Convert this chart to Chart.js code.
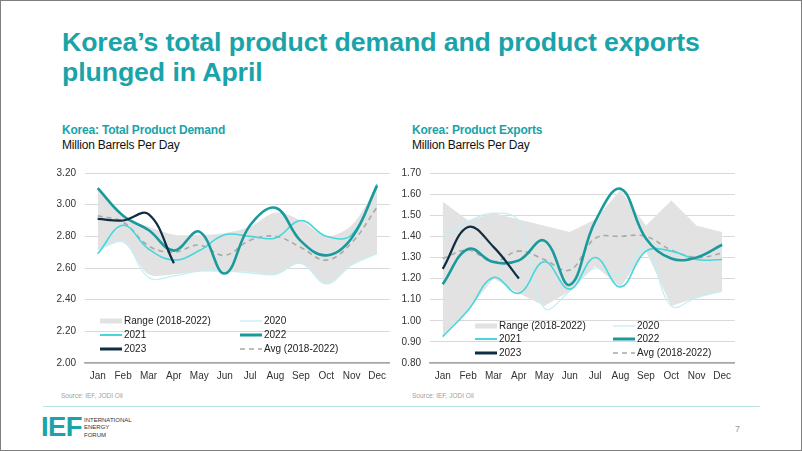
<!DOCTYPE html>
<html>
<head>
<meta charset="utf-8">
<script src="https://cdn.jsdelivr.net/npm/chart.js@4.4.0/dist/chart.umd.min.js"></script>
<style>
  html, body { margin:0; padding:0; background:#fff; }
  body { width:802px; height:451px; position:relative; overflow:hidden; font-family:"Liberation Sans", Arial, sans-serif; }
  #frame { position:absolute; left:0; top:0; width:802px; height:451px; box-sizing:border-box; border:1px solid #7f7f7f; pointer-events:none; }
  .title { position:absolute; left:62px; top:28px; font-size:26.7px; line-height:29.5px; font-weight:bold; color:#1aa3a9; letter-spacing:-0.1px; }
  .sub { position:absolute; font-size:12px; line-height:15px; }
  .sub b { color:#1aa3a9; display:block; letter-spacing:-0.2px; }
  .sub span { color:#111; display:block; letter-spacing:-0.2px; }
  .cv { position:absolute; }
  .legend { position:absolute; font-size:10px; color:#222; }
  .li { position:absolute; height:14px; white-space:nowrap; }
  .li svg { position:absolute; left:0; top:0; }
  .li span { position:absolute; left:24px; top:0; line-height:14px; }
  .src { position:absolute; top:392px; font-size:6.5px; color:#a0a0a0; }
  .sep { position:absolute; left:43px; top:406px; width:717px; height:1px; background:#b9e2e5; }
  .logo { position:absolute; left:41px; top:412px; font-size:27.5px; font-weight:bold; color:#1aa3a9; letter-spacing:-0.6px; line-height:30px; }
  .logotxt { position:absolute; left:84px; top:416.5px; font-size:6px; line-height:7.6px; color:#333; }
  .page { position:absolute; left:735px; top:424px; font-size:9px; color:#999; }
</style>
</head>
<body>
<div class="title">Korea’s total product demand and product exports<br>plunged in April</div>
<div class="sub" style="left:62px; top:123px;"><b>Korea: Total Product Demand</b><span>Million Barrels Per Day</span></div>
<div class="sub" style="left:412px; top:123px;"><b>Korea: Product Exports</b><span>Million Barrels Per Day</span></div>

<canvas id="c1" class="cv" width="343" height="230" style="left:50px; top:158px; width:343px; height:230px;"></canvas>
<canvas id="c2" class="cv" width="343" height="230" style="left:395px; top:158px; width:343px; height:230px;"></canvas>
<div id="lg1" class="legend"></div>
<div id="lg2" class="legend"></div>

<div class="src" style="left:61px;">Source: IEF, JODI Oil</div>
<div class="src" style="left:412px;">Source: IEF, JODI Oil</div>
<div class="sep"></div>
<div class="logo">IEF</div>
<div class="logotxt">INTERNATIONAL<br>ENERGY<br>FORUM</div>
<div class="page">7</div>
<div id="frame"></div>

<script>
// ---------- Data ----------
const months = ['Jan','Feb','Mar','Apr','May','Jun','Jul','Aug','Sep','Oct','Nov','Dec'];
const seriesNames = ['Range (2018-2022)','2020','2021','2022','2023','Avg (2018-2022)'];

// Korea: Total Product Demand (mb/d)
const demandTicks = [2.00, 2.20, 2.40, 2.60, 2.80, 3.00, 3.20];
const demandRangeMax = [3.10, 2.92, 2.86, 2.81, 2.81, 2.82, 2.86, 2.95, 2.90, 2.80, 2.87, 3.12];
const demandRangeMin = [2.71, 2.76, 2.56, 2.56, 2.58, 2.575, 2.575, 2.56, 2.63, 2.50, 2.62, 2.69];
const demand2020 = [2.72, 2.77, 2.54, 2.55, 2.58, 2.58, 2.57, 2.56, 2.63, 2.50, 2.62, 2.69];
const demand2021 = [2.69, 2.87, 2.72, 2.65, 2.71, 2.81, 2.80, 2.79, 2.90, 2.80, 2.81, 3.13];
const demand2022 = [3.105, 2.93, 2.84, 2.71, 2.83, 2.565, 2.87, 2.98, 2.77, 2.68, 2.79, 3.12];
const demand2023 = [2.91, 2.90, 2.94, 2.63];
const demandAvg = [2.93, 2.89, 2.74, 2.70, 2.745, 2.68, 2.775, 2.80, 2.73, 2.65, 2.76, 2.985];

// Korea: Product Exports (mb/d)
const exportTicks = [0.80, 0.90, 1.00, 1.10, 1.20, 1.30, 1.40, 1.50, 1.60, 1.70];
const exportRangeMax = [1.565, 1.475, 1.51, 1.48, 1.45, 1.42, 1.48, 1.62, 1.45, 1.57, 1.45, 1.42];
const exportRangeMin = [0.93, 1.05, 1.20, 1.13, 1.07, 1.14, 1.26, 1.16, 1.33, 1.07, 1.11, 1.14];
const export2020 = [1.40, 1.47, 1.51, 1.47, 1.06, 1.14, 1.25, 1.22, 1.34, 1.07, 1.11, 1.14];
const export2021 = [0.925, 1.05, 1.205, 1.13, 1.28, 1.15, 1.30, 1.16, 1.33, 1.33, 1.29, 1.29];
const export2022 = [1.173, 1.34, 1.278, 1.286, 1.38, 1.17, 1.47, 1.625, 1.39, 1.295, 1.30, 1.36];
const export2023 = [1.246, 1.444, 1.35, 1.20];
const exportAvg = [1.295, 1.335, 1.28, 1.33, 1.29, 1.24, 1.39, 1.40, 1.40, 1.335, 1.30, 1.32];

// ---------- Styles ----------
const C = {
  range: '#e2e2e2', y2020: '#c4eff4', y2021: '#46d6dc', y2022: '#1a9a9d', y2023: '#0f2e44', avg: '#a8a8a8'
};

function buildDatasets(d, bandTension) {
  // first dataset is drawn on top
  return [
    { label: seriesNames[4], data: d.y2023, borderColor: C.y2023, borderWidth: 2.2, tension: 0.4, pointRadius: 0, fill: false },
    { label: seriesNames[3], data: d.y2022, borderColor: C.y2022, borderWidth: 2.6, tension: 0.4, pointRadius: 0, fill: false },
    { label: seriesNames[2], data: d.y2021, borderColor: C.y2021, borderWidth: 1.6, tension: 0.4, pointRadius: 0, fill: false },
    { label: seriesNames[5], data: d.avg, borderColor: C.avg, borderWidth: 1.6, borderDash: [5, 4], tension: 0.4, pointRadius: 0, fill: false },
    { label: seriesNames[1], data: d.y2020, borderColor: C.y2020, borderWidth: 1.3, tension: 0.4, pointRadius: 0, fill: false },
    { label: seriesNames[0], data: d.max, borderWidth: 0, borderColor: 'rgba(0,0,0,0)', backgroundColor: C.range, tension: bandTension, pointRadius: 0, fill: '+1' },
    { label: 'min', data: d.min, borderWidth: 0, borderColor: 'rgba(0,0,0,0)', tension: bandTension, pointRadius: 0, fill: false }
  ];
}

function makeChart(id, d, ticks, bandTension) {
  const step = Math.round((ticks[1] - ticks[0]) * 100) / 100;
  return new Chart(document.getElementById(id), {
    type: 'line',
    data: { labels: months, datasets: buildDatasets(d, bandTension) },
    options: {
      responsive: false, animation: false,
      layout: { padding: { top: 2, right: 0, left: 0, bottom: 0 } },
      plugins: { legend: { display: false }, tooltip: { enabled: false } },
      scales: {
        x: {
          offset: true,
          grid: { display: false, drawTicks: false },
          border: { display: true, color: '#a6a6a6', width: 1.6 },
          ticks: { color: '#333', font: { family: 'Liberation Sans', size: 10 }, padding: 7, maxRotation: 0, autoSkip: false },
          afterFit: s => { s.height = 25; }
        },
        y: {
          min: ticks[0], max: ticks[ticks.length - 1],
          afterBuildTicks: s => { s.ticks = ticks.map(v => ({ value: v })); },
          grid: { color: '#d9d9d9', lineWidth: 1, drawTicks: false },
          border: { display: false },
          ticks: { stepSize: step, color: '#333', font: { family: 'Liberation Sans', size: 10 }, padding: 9, callback: v => Number(v).toFixed(2) },
          afterFit: s => { s.width = 35; }
        }
      }
    }
  });
}

function swatch(kind, color) {
  if (kind === 'band') return `<svg width="22" height="14"><rect x="0" y="4.5" width="22" height="5" fill="${color}"/></svg>`;
  if (kind === 'dash') return `<svg width="22" height="14"><line x1="0" y1="7" x2="22" y2="7" stroke="${color}" stroke-width="1.5" stroke-dasharray="5 4"/></svg>`;
  return `<svg width="22" height="14"><line x1="0" y1="7" x2="22" y2="7" stroke="${color}" stroke-width="${kind}"/></svg>`;
}

function buildLegend(elId, pos) {
  const items = [
    { name: seriesNames[0], sw: swatch('band', C.range) },
    { name: seriesNames[1], sw: swatch(1.3, C.y2020) },
    { name: seriesNames[2], sw: swatch(2, C.y2021) },
    { name: seriesNames[3], sw: swatch(3, C.y2022) },
    { name: seriesNames[4], sw: swatch(3, C.y2023) },
    { name: seriesNames[5], sw: swatch('dash', C.avg) }
  ];
  const el = document.getElementById(elId);
  el.style.left = pos.x + 'px';
  el.style.top = (pos.y - 7) + 'px';
  el.innerHTML = items.map((it, i) => {
    const col = i % 2, row = Math.floor(i / 2);
    return `<div class="li" style="left:${col * pos.colW}px; top:${row * pos.rowH}px;">${it.sw}<span>${it.name}</span></div>`;
  }).join('');
}

makeChart('c1', { max: demandRangeMax, min: demandRangeMin, y2020: demand2020, y2021: demand2021, y2022: demand2022, y2023: demand2023, avg: demandAvg }, demandTicks, 0.3);
makeChart('c2', { max: exportRangeMax, min: exportRangeMin, y2020: export2020, y2021: export2021, y2022: export2022, y2023: export2023, avg: exportAvg }, exportTicks, 0);
buildLegend('lg1', { x: 100, y: 321, colW: 140, rowH: 14.2 });
buildLegend('lg2', { x: 475, y: 326, colW: 138, rowH: 13.3 });
</script>
</body>
</html>
